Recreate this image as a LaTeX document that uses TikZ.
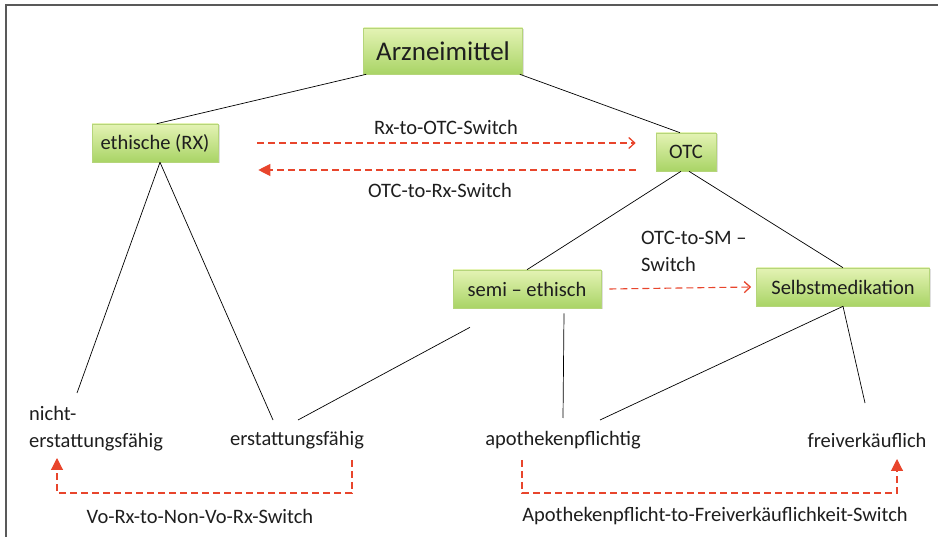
\documentclass[tikz,border=0pt]{standalone}
\usepackage{fontspec}
\setmainfont{Carlito}
\usetikzlibrary{arrows.meta,shadows}
\definecolor{boxtop}{HTML}{E4F3B4}
\definecolor{boxbot}{HTML}{A9D466}
\definecolor{boxline}{HTML}{B5D57A}
\definecolor{switchred}{HTML}{E8452C}
\definecolor{framegray}{HTML}{595959}
\definecolor{ink}{HTML}{1E1E1E}
\tikzset{
  txt/.style={font=\fontsize{20.5}{27}\selectfont, text=ink},
  catbox/.style={txt, draw=boxline, line width=0.6pt, top color=boxtop, bottom color=boxbot,
    inner xsep=8pt, inner ysep=0pt, minimum height=38pt,
    drop shadow={shadow xshift=1.5pt, shadow yshift=-1.5pt, opacity=0.25}},
  leaf/.style={txt, inner sep=0pt, align=left},
  lbl/.style={txt, inner sep=0pt, align=left},
  tree/.style={draw=black, line width=0.7pt},
  switch/.style={draw=switchred, line width=1.1pt, dash pattern=on 7pt off 4pt},
  openhead/.style={-{Straight Barb[length=6pt,width=11pt,line width=1.3pt]}},
  fillhead/.style={-{Triangle[length=12pt,width=12pt]}}
}
\begin{document}
\begin{tikzpicture}[x=1pt,y=-1pt]
  \useasboundingbox (0,0) rectangle (938,537);
  % frame along the top and left edges
  \draw[framegray, line width=2pt] (5.5,537) -- (5.5,5) -- (938,5);

  % category boxes
  \node[catbox, minimum width=159pt, minimum height=46pt, font=\fontsize{27}{30}\selectfont] (arz) at (443,51) {Arzneimittel};
  \node[catbox, minimum width=126pt] (eth) at (155,143) {ethische (RX)};
  \node[catbox, minimum width=60pt] (otc) at (686,152) {OTC};
  \node[catbox, minimum width=148pt] (semi) at (527,289) {semi -- ethisch};
  \node[catbox, minimum width=173pt] (sm) at (843,287) {Selbstmedikation};

  % leaf labels
  \node[leaf, anchor=west] (nicht) at (29,429) {nicht-\\erstattungsfähig};
  \node[leaf] (erst) at (297,440) {erstattungsfähig};
  \node[leaf] (apo) at (563,440) {apothekenpflichtig};
  \node[leaf] (frei) at (867,440) {freiverkäuflich};

  % tree connectors
  \draw[tree] ([xshift=3pt]arz.south west) -- ([xshift=65pt]eth.north west);
  \draw[tree] ([xshift=-3pt]arz.south east) -- ([xshift=-6pt]otc.north);
  \draw[tree] ([xshift=5pt]eth.south) -- ([xshift=48pt,yshift=36pt]nicht.west);
  \draw[tree] ([xshift=5pt]eth.south) -- ([xshift=-24pt,yshift=20pt]erst.center);
  \draw[tree] ([xshift=-57pt,yshift=-19pt]semi.south) -- ([xshift=1pt,yshift=20pt]erst.center);
  \draw[tree] ([xshift=37pt,yshift=-5pt]semi.south) -- ([yshift=22pt]apo.center);
  \draw[tree] ([xshift=-5pt]otc.south) -- (semi.north);
  \draw[tree] ([xshift=3pt]otc.south) -- (sm.north);
  \draw[tree] (sm.south) -- ([xshift=37pt,yshift=20pt]apo.center);
  \draw[tree] (sm.south) -- ([xshift=-2pt,yshift=37pt]frei.center);

  % switches between categories
  \draw[switch, openhead] ([xshift=39pt]eth.east) -- ([xshift=-20pt,yshift=9pt]otc.west);
  \node[lbl] (rxotc) at (446,127) {Rx-to-OTC-Switch};
  \draw[switch, fillhead] ([xshift=-20pt,yshift=-18pt]otc.west) -- ([xshift=40pt,yshift=-27pt]eth.east);
  \node[lbl] (otcrx) at (440,190) {OTC-to-Rx-Switch};
  \draw[switch, openhead] ([xshift=8pt]semi.east) -- ([xshift=-5pt]sm.west);
  \node[lbl, anchor=north west] (otcsm) at (641,231) {OTC-to-SM --\\Switch};

  % switches between leaves
  \coordinate (vo1) at (352,493);
  \coordinate (vo2) at (57,493);
  \draw[switch, fillhead] ([xshift=55pt,yshift=-20pt]erst.center) -- (vo1) -- (vo2) -- ([yshift=-29pt]nicht.west -| vo2);
  \node[lbl] (vorx) at (200,516) {Vo-Rx-to-Non-Vo-Rx-Switch};
  \coordinate (ap1) at (522,493);
  \coordinate (ap2) at (897,493);
  \draw[switch, fillhead] ([xshift=-41pt,yshift=-20pt]apo.center) -- (ap1) -- (ap2) -- ([yshift=-19pt]frei.center -| ap2);
  \node[lbl] (apofrei) at (715,516) {Apothekenpflicht-to-Freiverkäuflichkeit-Switch};
\end{tikzpicture}
\end{document}
